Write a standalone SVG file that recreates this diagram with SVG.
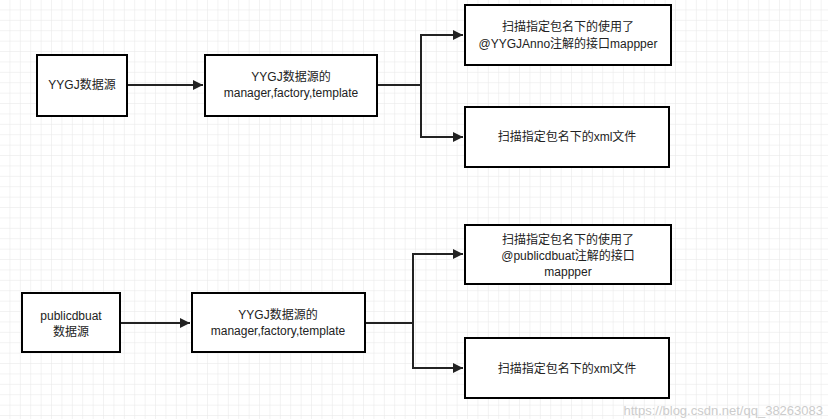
<svg xmlns="http://www.w3.org/2000/svg" width="828" height="419" viewBox="0 0 828 419">
<style>
.b{fill:#fff;stroke:#000;stroke-width:2}
.t{font-family:"Liberation Sans","Noto Sans CJK SC",sans-serif;font-size:12px;fill:#222;text-anchor:middle}
.c{fill:none;stroke:#222;stroke-width:2}
</style>
<defs>
<pattern id="g" width="10.4" height="10.4" patternUnits="userSpaceOnUse"><path d="M10.4 0V10.4H0" fill="none" stroke="#e6e6e6" stroke-width="1"/></pattern>
<marker id="a" viewBox="0 0 10 10" refX="10" refY="5" markerWidth="5" markerHeight="5" orient="auto"><path d="M0 0L10 5L0 10z" fill="#222"/></marker>
</defs>
<rect width="828" height="419" fill="#fff"/>
<rect width="828" height="419" fill="url(#g)"/>
<g id="connectors">
<path class="c" d="M127 85H203" marker-end="url(#a)"/>
<path class="c" d="M377 85H421M421 85V35H463" marker-end="url(#a)"/>
<path class="c" d="M421 85V137H463" marker-end="url(#a)"/>
<path class="c" d="M120 323H190" marker-end="url(#a)"/>
<path class="c" d="M365 323H413M413 323V254H463" marker-end="url(#a)"/>
<path class="c" d="M413 323V368H463" marker-end="url(#a)"/>
</g>
<g id="n1"><rect class="b" x="37" y="55" width="90" height="61"/><text class="t" x="82" y="89">YYGJ数据源</text></g>
<g id="n2"><rect class="b" x="205" y="55" width="172" height="61"/><text class="t" x="291" y="81">YYGJ数据源的</text><text class="t" x="291" y="97">manager,factory,template</text></g>
<g id="n3"><rect class="b" x="465" y="5" width="206" height="60"/><text class="t" x="568" y="31">扫描指定包名下的使用了</text><text class="t" x="568" y="48">@YYGJAnno注解的接口mappper</text></g>
<g id="n4"><rect class="b" x="465" y="107" width="204" height="60"/><text class="t" x="567" y="141">扫描指定包名下的xml文件</text></g>
<g id="n5"><rect class="b" x="22" y="293" width="98" height="59"/><text class="t" x="71" y="320">publicdbuat</text><text class="t" x="71" y="336">数据源</text></g>
<g id="n6"><rect class="b" x="192" y="293" width="173" height="59"/><text class="t" x="278" y="319">YYGJ数据源的</text><text class="t" x="278" y="335">manager,factory,template</text></g>
<g id="n7"><rect class="b" x="465" y="225" width="206" height="59"/><text class="t" x="568" y="244">扫描指定包名下的使用了</text><text class="t" x="568" y="260">@publicdbuat注解的接口</text><text class="t" x="568" y="276">mappper</text></g>
<g id="n8"><rect class="b" x="465" y="338" width="204" height="60"/><text class="t" x="567" y="373">扫描指定包名下的xml文件</text></g>
<text x="823" y="415" font-family="Liberation Sans,sans-serif" font-size="13" fill="#ccc" text-anchor="end">https://blog.csdn.net/qq_38263083</text>
</svg>
